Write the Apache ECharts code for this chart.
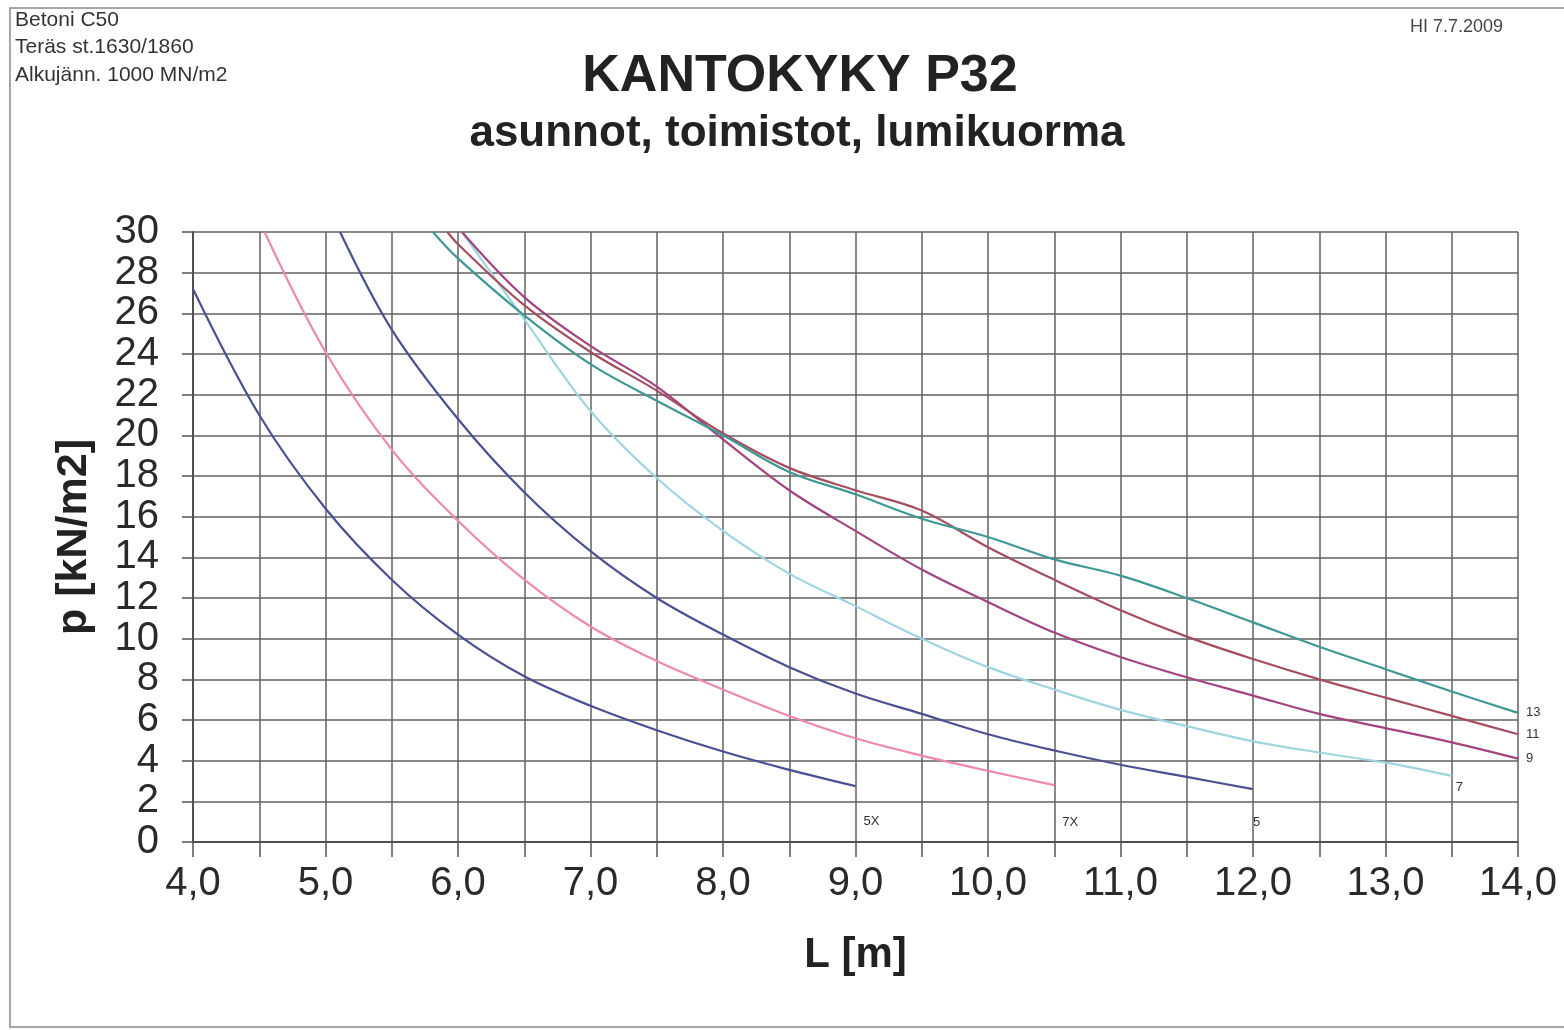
<!DOCTYPE html>
<html>
<head>
<meta charset="utf-8">
<script src="https://cdn.jsdelivr.net/npm/echarts@6/dist/echarts.min.js"></script>
<style>
html,body{margin:0;padding:0;background:#fff;}
#chart{width:1564px;height:1030px;}
</style>
</head>
<body>
<div id="chart"></div>
<script>
// ---- Data ----
const seriesNames = ['5X', '7X', '5', '7', '9', '11', '13'];

const L_5X = [4.0, 4.5, 5.0, 5.5, 6.0, 6.5, 7.0, 7.5, 8.0, 8.5, 9.0];
const p_5X = [27.2, 21.0, 16.4, 12.9, 10.2, 8.15, 6.7, 5.5, 4.45, 3.55, 2.75];

const L_7X = [4.54, 5.0, 5.5, 6.0, 6.5, 7.0, 7.5, 8.0, 8.5, 9.0, 9.5, 10.0, 10.5];
const p_7X = [30, 24.1, 19.3, 15.8, 12.9, 10.6, 8.9, 7.5, 6.2, 5.1, 4.25, 3.5, 2.8];

const L_5 = [5.11, 5.5, 6.0, 6.5, 7.0, 7.5, 8.0, 8.5, 9.0, 9.5, 10.0, 10.5, 11.0, 11.5, 12.0];
const p_5 = [30, 25.2, 20.8, 17.2, 14.3, 12.0, 10.2, 8.6, 7.3, 6.3, 5.3, 4.5, 3.8, 3.2, 2.6];

const L_7 = [6.03, 6.5, 7.0, 7.5, 8.0, 8.5, 9.0, 9.5, 10.0, 10.5, 11.0, 11.5, 12.0, 12.5, 13.0, 13.5];
const p_7 = [30, 25.7, 21.2, 17.9, 15.3, 13.2, 11.6, 10.0, 8.6, 7.5, 6.5, 5.7, 4.95, 4.4, 3.9, 3.25];

const L_9 = [6.03, 6.5, 7.0, 7.5, 8.0, 8.5, 9.0, 9.5, 10.0, 10.5, 11.0, 11.5, 12.0, 12.5, 13.0, 13.5, 14.0];
const p_9 = [30, 26.8, 24.4, 22.4, 19.8, 17.3, 15.3, 13.4, 11.8, 10.3, 9.1, 8.1, 7.2, 6.3, 5.6, 4.9, 4.1];

const L_11 = [5.92, 6.0, 6.5, 7.0, 7.5, 8.0, 8.5, 9.0, 9.5, 10.0, 10.5, 11.0, 11.5, 12.0, 12.5, 13.0, 13.5, 14.0];
const p_11 = [30, 29.4, 26.4, 24.1, 22.2, 20.1, 18.4, 17.3, 16.3, 14.5, 12.9, 11.4, 10.1, 9.0, 8.0, 7.1, 6.2, 5.3];

const L_13 = [5.81, 6.0, 6.5, 7.0, 7.5, 8.0, 8.5, 9.0, 9.5, 10.0, 10.5, 11.0, 11.5, 12.0, 12.5, 13.0, 13.5, 14.0];
const p_13 = [30, 28.7, 25.9, 23.5, 21.7, 20.0, 18.2, 17.1, 15.9, 15.0, 13.9, 13.1, 12.0, 10.8, 9.6, 8.5, 7.4, 6.35];

const yTicks = [0, 2, 4, 6, 8, 10, 12, 14, 16, 18, 20, 22, 24, 26, 28, 30];
const xTickLabels = ['4,0', '5,0', '6,0', '7,0', '8,0', '9,0', '10,0', '11,0', '12,0', '13,0', '14,0'];

// ---- Styles ----
const FONT = '"Liberation Sans", Arial, sans-serif';
const colors = {
  '5X': '#4b5092', '7X': '#ee88ae', '5': '#4b5092', '7': '#9fd6de',
  '9': '#a2457f', '11': '#a44e5f', '13': '#3f9893'
};
const labelOffsets = {
  '5X': [8, 35], '7X': [8, 37], '5': [0, 33], '7': [4, 12],
  '9': [8, 0], '11': [8, 0], '13': [8, 0]
};
const pairs = {
  '5X': [L_5X, p_5X], '7X': [L_7X, p_7X], '5': [L_5, p_5], '7': [L_7, p_7],
  '9': [L_9, p_9], '11': [L_11, p_11], '13': [L_13, p_13]
};

function zip(a, b) { return a.map((v, i) => [v, b[i]]); }

const series = seriesNames.map(n => ({
  name: n,
  type: 'line',
  data: zip(pairs[n][0], pairs[n][1]),
  smooth: 0.35,
  showSymbol: false,
  symbol: 'none',
  clip: true,
  lineStyle: { color: colors[n], width: 2.2 },
  itemStyle: { color: colors[n] },
  endLabel: {
    show: true,
    formatter: n,
    distance: 0,
    offset: labelOffsets[n],
    fontSize: 13,
    fontFamily: FONT,
    color: '#333'
  },
  z: 3
}));

const chart = echarts.init(document.getElementById('chart'), null, { renderer: 'canvas' });
chart.setOption({
  animation: false,
  backgroundColor: '#fff',
  grid: { left: 193, top: 232, right: 46, bottom: 188, containLabel: false },
  xAxis: {
    type: 'value',
    min: 4, max: 14, interval: 0.5,
    name: 'L [m]',
    nameLocation: 'middle',
    nameGap: 92,
    nameTextStyle: { fontFamily: FONT, fontWeight: 'bold', fontSize: 42, color: '#222' },
    axisLine: { show: true, lineStyle: { color: '#505050', width: 2 } },
    axisTick: { show: true, length: 15, lineStyle: { color: '#555', width: 1.5 } },
    axisLabel: {
      margin: 22,
      fontFamily: FONT, fontSize: 40, color: '#2a2a2a',
      formatter: v => {
        const k = Math.round(v - 4);
        return (Math.abs(v - Math.round(v)) < 1e-9) ? xTickLabels[k] : '';
      }
    },
    splitLine: { show: true, lineStyle: { color: '#626262', width: 1.5 } }
  },
  yAxis: {
    type: 'value',
    min: 0, max: 30, interval: 2,
    name: 'p [kN/m2]',
    nameLocation: 'middle',
    nameRotate: 90,
    nameGap: 97,
    nameTextStyle: { fontFamily: FONT, fontWeight: 'bold', fontSize: 43, color: '#222' },
    axisLine: { show: true, lineStyle: { color: '#505050', width: 2 } },
    axisTick: { show: true, length: 11, lineStyle: { color: '#555', width: 1.5 } },
    axisLabel: {
      margin: 34,
      fontFamily: FONT, fontSize: 40, color: '#2a2a2a',
      formatter: v => (yTicks.indexOf(v) >= 0 ? String(v) : '')
    },
    splitLine: { show: true, lineStyle: { color: '#626262', width: 1.5 } }
  },
  graphic: [
    { type: 'rect', silent: true, z: -1,
      shape: { x: 10, y: 8, width: 1600, height: 1019 },
      style: { fill: 'none', stroke: '#8a8a8a', lineWidth: 1.5 } },
    { type: 'text', x: 15, y: 20, style: { text: 'Betoni C50', font: '21px ' + FONT, fill: '#333', textVerticalAlign: 'middle' } },
    { type: 'text', x: 15, y: 47, style: { text: 'Teräs st.1630/1860', font: '21px ' + FONT, fill: '#333', textVerticalAlign: 'middle' } },
    { type: 'text', x: 15, y: 75, style: { text: 'Alkujänn. 1000 MN/m2', font: '21px ' + FONT, fill: '#333', textVerticalAlign: 'middle' } },
    { type: 'text', x: 1410, y: 27, style: { text: 'HI 7.7.2009', font: '18px ' + FONT, fill: '#444', textVerticalAlign: 'middle' } },
    { type: 'text', x: 800, y: 77, style: { text: 'KANTOKYKY P32', font: 'bold 52px ' + FONT, fill: '#222', textAlign: 'center', textVerticalAlign: 'middle' } },
    { type: 'text', x: 797, y: 134, style: { text: 'asunnot, toimistot, lumikuorma', font: 'bold 44px ' + FONT, fill: '#222', textAlign: 'center', textVerticalAlign: 'middle' } }
  ],
  series: series
});
</script>
</body>
</html>
